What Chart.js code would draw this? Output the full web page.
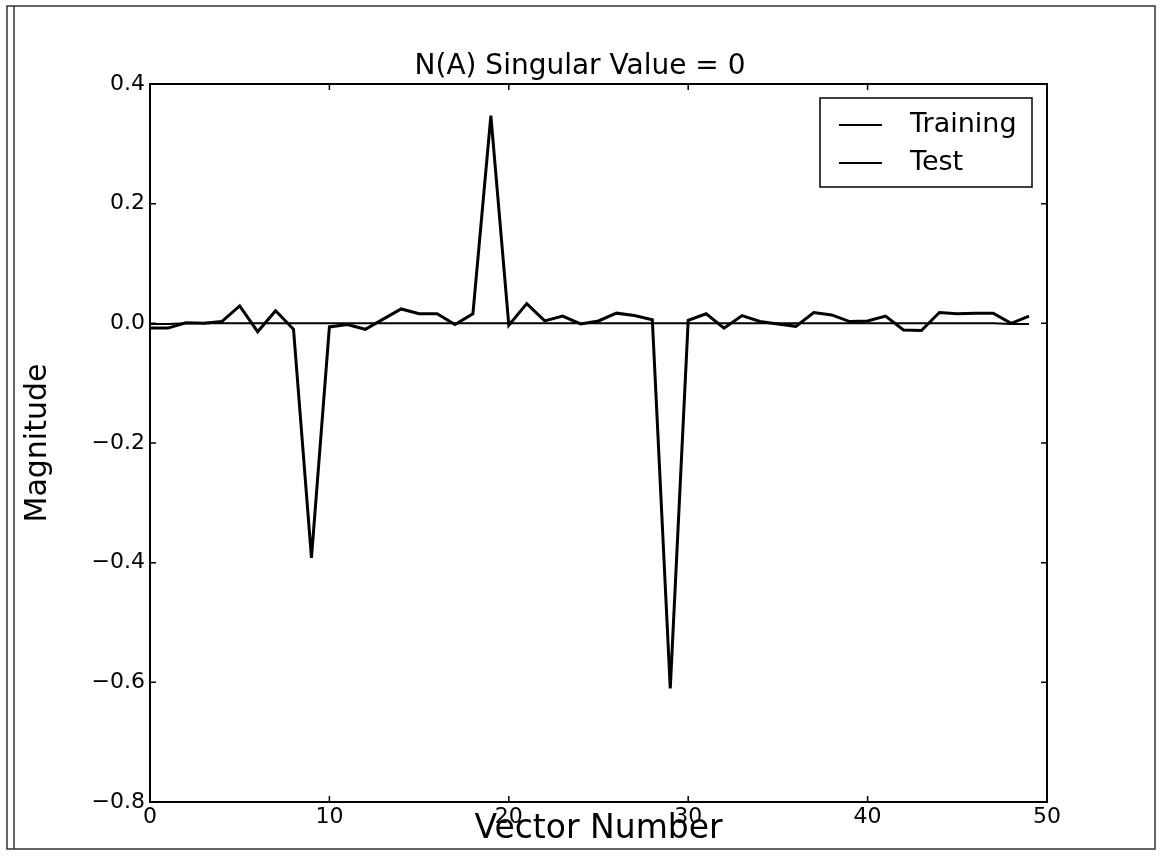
<!DOCTYPE html>
<html>
<head>
<meta charset="utf-8">
<script src="https://cdn.jsdelivr.net/npm/chart.js@4.4.1/dist/chart.umd.min.js"></script>
<style>
  html, body { margin: 0; padding: 0; background: #fff; }
  #chart { display: block; }
</style>
</head>
<body>
<canvas id="chart" width="1160" height="860"></canvas>
<script>
const FONT = "'DejaVu Sans', 'Liberation Sans', sans-serif";

const vectorNumbers = [
  0, 1, 2, 3, 4, 5, 6, 7, 8, 9,
  10, 11, 12, 13, 14, 15, 16, 17, 18, 19,
  20, 21, 22, 23, 24, 25, 26, 27, 28, 29,
  30, 31, 32, 33, 34, 35, 36, 37, 38, 39,
  40, 41, 42, 43, 44, 45, 46, 47, 48, 49
];

const training = [
  -0.008, -0.008, 0.001, 0.000, 0.003, 0.029, -0.014, 0.021, -0.010, -0.392,
  -0.006, -0.002, -0.010, 0.007, 0.024, 0.016, 0.016, -0.002, 0.016, 0.347,
  -0.003, 0.033, 0.004, 0.012, -0.001, 0.004, 0.017, 0.013, 0.006, -0.610,
  0.005, 0.016, -0.008, 0.013, 0.003, -0.001, -0.005, 0.018, 0.014, 0.003,
  0.004, 0.012, -0.011, -0.012, 0.018, 0.016, 0.017, 0.017, 0.000, 0.012
];

const test = [
  -0.001, -0.001, 0.000, 0.000, 0.000, 0.000, 0.000, 0.000, 0.000, 0.000,
  0.000, 0.000, 0.000, 0.000, 0.000, 0.000, 0.000, 0.000, 0.000, 0.000,
  0.000, 0.000, 0.000, 0.000, 0.000, 0.000, 0.000, 0.000, 0.000, 0.000,
  0.000, 0.000, 0.000, 0.000, 0.000, 0.000, 0.000, 0.000, 0.000, 0.000,
  0.000, 0.000, 0.000, 0.000, 0.000, 0.000, 0.000, 0.000, -0.001, -0.001
];

const seriesNames = ["Training", "Test"];
const xTicks = { min: 0, max: 50, step: 10 };
const yTicks = { min: -0.8, max: 0.4, step: 0.2 };

function fmt(v) {
  if (Math.abs(v) < 1e-9) return "0.0";
  return v.toFixed(1).replace("-", "\u2212");
}

// page frame, inward ticks, boxed legend
const framePlugin = {
  id: "frame",
  beforeDraw(chart) {
    const ctx = chart.ctx;
    ctx.save();
    ctx.fillStyle = "#fff";
    ctx.fillRect(0, 0, chart.width, chart.height);
    ctx.strokeStyle = "#333";
    ctx.lineWidth = 1.5;
    ctx.strokeRect(7, 6, 1148, 843);
    ctx.beginPath();
    ctx.moveTo(14, 6);
    ctx.lineTo(14, 849);
    ctx.stroke();
    ctx.restore();
  },
  afterDraw(chart) {
    const { ctx, chartArea: a, scales } = chart;
    ctx.save();
    ctx.strokeStyle = "#000";
    ctx.lineWidth = 2;
    ctx.strokeRect(a.left, a.top, a.right - a.left, a.bottom - a.top);

    ctx.lineWidth = 1.5;
    ctx.beginPath();
    scales.x.ticks.forEach(t => {
      const px = scales.x.getPixelForValue(t.value);
      ctx.moveTo(px, a.bottom); ctx.lineTo(px, a.bottom - 6);
      ctx.moveTo(px, a.top); ctx.lineTo(px, a.top + 6);
    });
    scales.y.ticks.forEach(t => {
      const py = scales.y.getPixelForValue(t.value);
      ctx.moveTo(a.left, py); ctx.lineTo(a.left + 6, py);
      ctx.moveTo(a.right, py); ctx.lineTo(a.right - 6, py);
    });
    ctx.stroke();

    // legend
    const w = 212, h = 89;
    const lx = a.right - 227, ly = a.top + 14;
    ctx.fillStyle = "#fff";
    ctx.fillRect(lx, ly, w, h);
    ctx.lineWidth = 1.5;
    ctx.strokeRect(lx, ly, w, h);
    ctx.font = "27px " + FONT;
    ctx.textBaseline = "middle";
    ctx.textAlign = "left";
    chart.data.datasets.forEach((ds, i) => {
      const ry = ly + 27 + i * 38;
      ctx.strokeStyle = ds.borderColor;
      ctx.lineWidth = 2;
      ctx.beginPath();
      ctx.moveTo(lx + 19, ry);
      ctx.lineTo(lx + 62, ry);
      ctx.stroke();
      ctx.fillStyle = "#000";
      ctx.fillText(ds.label, lx + 90, ry);
    });
    ctx.restore();
  }
};

new Chart(document.getElementById("chart"), {
  type: "line",
  data: {
    datasets: [
      {
        label: seriesNames[0],
        data: vectorNumbers.map((v, i) => ({ x: v, y: training[i] })),
        borderColor: "#000",
        borderWidth: 3,
        pointRadius: 0,
        tension: 0,
        fill: false
      },
      {
        label: seriesNames[1],
        data: vectorNumbers.map((v, i) => ({ x: v, y: test[i] })),
        borderColor: "#000",
        borderWidth: 2,
        pointRadius: 0,
        tension: 0,
        fill: false
      }
    ]
  },
  options: {
    responsive: false,
    devicePixelRatio: 1,
    animation: false,
    layout: { padding: 0 },
    plugins: {
      legend: { display: false },
      tooltip: { enabled: false },
      title: {
        display: true,
        text: "N(A) Singular Value = 0",
        color: "#000",
        font: { family: FONT, size: 28, weight: "normal" },
        padding: { top: 50, bottom: 0.4 }
      }
    },
    scales: {
      x: {
        type: "linear",
        min: xTicks.min,
        max: xTicks.max,
        ticks: {
          stepSize: xTicks.step,
          color: "#000",
          font: { family: FONT, size: 22 },
          padding: 2,
          maxRotation: 0
        },
        grid: { display: false, drawTicks: false },
        border: { display: false },
        title: {
          display: true,
          text: "Vector Number",
          color: "#000",
          font: { family: FONT, size: 33 },
          padding: { top: 0, bottom: 11 }
        },
        afterFit(s) { s.height = 58; }
      },
      y: {
        min: yTicks.min,
        max: yTicks.max,
        ticks: {
          stepSize: yTicks.step,
          color: "#000",
          font: { family: FONT, size: 22 },
          padding: 5,
          callback: v => fmt(v)
        },
        grid: { display: false, drawTicks: false },
        border: { display: false },
        title: {
          display: true,
          text: "Magnitude",
          color: "#000",
          font: { family: FONT, size: 30 },
          padding: { top: 20, bottom: 0 }
        },
        afterFit(s) { s.width = 150; }
      },
      y2: {
        position: "right",
        min: yTicks.min,
        max: yTicks.max,
        ticks: { display: false },
        grid: { display: false, drawTicks: false },
        border: { display: false },
        afterFit(s) { s.width = 113; }
      }
    }
  },
  plugins: [framePlugin]
});
</script>
</body>
</html>
